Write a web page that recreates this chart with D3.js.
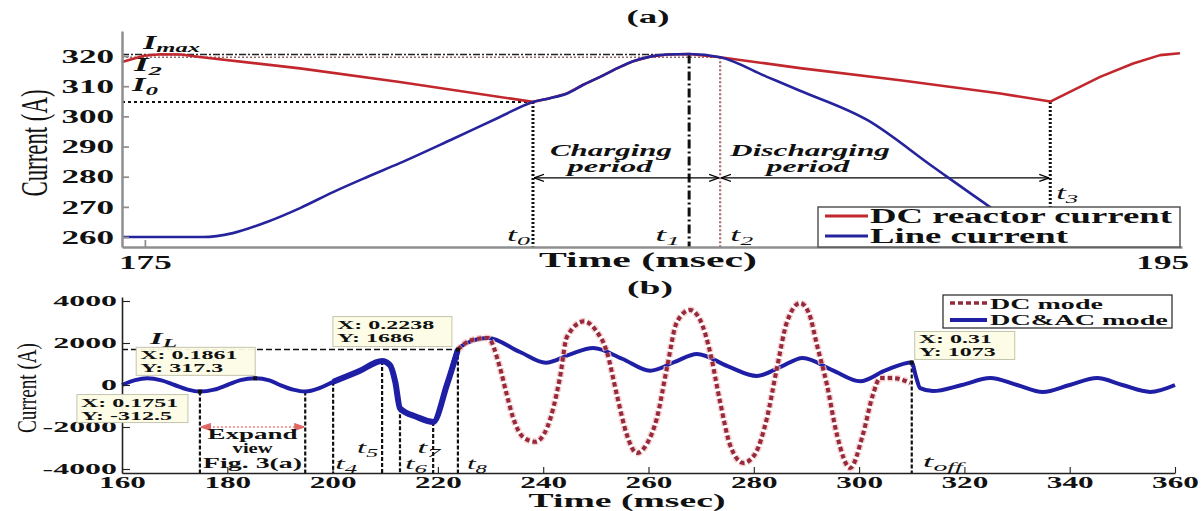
<!DOCTYPE html>
<html>
<head>
<meta charset="utf-8">
<script src="https://cdn.jsdelivr.net/npm/d3@7"></script>
<style>
  html, body { margin: 0; padding: 0; background: #fff; }
  svg { display: block; }
</style>
</head>
<body>
<div id="chart"></div>
<script>
(function () {
  "use strict";

  // ---- panel (a): expanded view, 175-195 ms ----
  const lineTimeA = [174.55, 176.14, 176.73, 177.40, 178.05, 178.70, 179.37, 180.01, 181.00, 181.98, 182.63, 182.96, 183.30, 183.61, 183.95, 184.28, 184.60, 184.93, 185.27, 185.70, 186.31, 187.23, 187.88, 189.20, 190.50, 191.56, 192.40];
  const lineCurrentA = [260.0, 260.0, 261.3, 265.0, 269.6, 274.9, 279.9, 284.5, 292.1, 299.8, 304.8, 306.0, 307.6, 310.4, 313.1, 315.9, 318.3, 319.8, 320.5, 320.7, 319.6, 313.1, 308.5, 298.8, 283.2, 270.6, 261.0];
  const reactorTimeA = [174.55, 174.98, 175.31, 175.71, 176.08, 178.05, 180.01, 182.63, 182.96, 183.30, 183.61, 183.95, 184.28, 184.60, 184.93, 185.27, 185.70, 186.31, 187.88, 189.85, 191.82, 192.80, 193.78, 194.43, 194.96, 195.35];
  const reactorCurrentA = [318.0, 320.1, 320.6, 320.5, 319.7, 315.9, 311.4, 304.8, 306.0, 307.6, 310.4, 313.1, 315.9, 318.3, 319.8, 320.5, 320.7, 319.6, 316.0, 312.0, 307.6, 304.9, 313.1, 317.5, 320.3, 320.9];
  const ticksAX = [175, 195];
  const ticksAY = [260, 270, 280, 290, 300, 310, 320];
  const eventNamesA = ["0", "1", "2", "3"];
  const eventTimesA = [182.63, 185.70, 186.31, 192.80];
  const levelI0 = 304.8, levelI2 = 319.6, levelImax = 320.5;
  const arrowLevelA = 279.6;

  // ---- panel (b): 160-360 ms ----
  const acTimeB = [160, 162.5, 164.8, 167.5, 170, 172.5, 174.8, 177.5, 180, 182.5, 185.3, 188, 190, 192.5, 194.8, 197.6, 200.1, 205, 209.4, 210.9, 211.9, 212.8, 216, 219.1, 221.7, 223.8, 224.8, 229.5, 235.6, 240.5, 245, 249.5, 255, 260.3, 265, 269.2, 275, 280.6, 285, 289.3, 295, 300.2, 305, 310, 310.8, 311.6, 314, 319.5, 324.9, 330, 334.9, 340, 345.2, 350, 355.3, 360];
  const acCurrentB = [0, 230, 317, 220, 0, -220, -312, -220, 0, 230, 317, 220, 0, -220, -312, -140, 150, 650, 1140, 950, 150, -1110, -1520, -1760, 0, 1686, 1900, 2240, 1570, 1060, 1450, 1760, 1250, 680, 1100, 1480, 900, 430, 850, 1290, 700, 180, 700, 1073, 400, -150, -290, 0, 330, 0, -330, 0, 330, 0, -330, 0];
  const dcTimeB = [223.8, 226.0, 229.5, 231.8, 233.1, 234.3, 236.2, 238.5, 240.8, 243.2, 244.5, 247.8, 250.0, 252.1, 254.0, 255.9, 257.8, 259.7, 261.6, 263.5, 265.4, 267.9, 269.8, 271.7, 273.6, 275.5, 278.0, 280.2, 282.5, 284.4, 286.3, 288.8, 290.5, 292.0, 293.9, 295.8, 298.3, 300.7, 302.6, 304.0, 306.5, 309.7];
  const dcCurrentB = [1686, 2100, 2240, 810, -480, -1570, -2480, -2700, -2000, 380, 2290, 3030, 2600, 1570, -480, -2380, -3240, -2800, -1570, 810, 3000, 3570, 3100, 1570, -810, -2860, -3710, -3300, -1570, 810, 3000, 3900, 3400, 1900, 0, -2380, -3950, -2380, -480, 330, 330, 100];
  const ticksBX = [160, 180, 200, 220, 240, 260, 280, 300, 320, 340, 360];
  const ticksBY = [-4000, -2000, 0, 2000, 4000];
  const markTimesB = [174.8, 194.8, 200.1, 209.4, 212.8, 219.1, 223.8, 310];
  const markLevelsB = [-312.5, -312.5, 150, 1140, -1110, -1760, 1686, 1073];
  const levelIL = 1686;
  const expandLevel = -2000;
  const tipTimes = [185.3, 174.8, 223.8, 310];
  const tipLevels = [317.3, -312.5, 1686, 1073];
  const tipTexts = [["X: 0.1861", "Y: 317.3"], ["X: 0.1751", "Y: -312.5"], ["X: 0.2238", "Y: 1686"], ["X: 0.31", "Y: 1073"]];

  const SERIF = "'Liberation Serif', 'Times New Roman', serif";
  const K = 1.9;
  const W = 1204, H = 511;

  const svg = d3.select("#chart").append("svg").attr("width", W).attr("height", H);
  const defs = svg.append("defs");

  function marker(id, color, fill) {
    defs.append("marker").attr("id", id)
      .attr("viewBox", "0 -5 10 10").attr("refX", 10).attr("refY", 0)
      .attr("markerWidth", 10).attr("markerHeight", 10)
      .attr("markerUnits", "userSpaceOnUse").attr("orient", "auto-start-reverse")
      .append("path").attr("d", "M0,-3.5L10,0L0,3.5")
      .attr("fill", fill).attr("stroke", color).attr("stroke-width", 1.2);
  }
  marker("arrK", "#000", "none");
  marker("arrR", "#e06666", "#e06666");

  function label(parent, x, y, str, o) {
    o = o || {};
    const size = o.size || 16;
    const t = parent.append("text")
      .attr("font-family", SERIF)
      .attr("font-size", size)
      .attr("font-weight", o.weight || "bold")
      .attr("font-style", o.italic ? "italic" : "normal")
      .attr("text-anchor", o.anchor || "start")
      .attr("fill", o.fill || "#111");
    t.append("tspan").text(str);
    if (o.sub) {
      t.append("tspan").attr("font-size", size * 0.72).attr("dy", size * 0.22).text(o.sub);
    }
    let sx = o.sx || K;
    if (o.w) {
      const n = t.node().getComputedTextLength();
      if (n > 0) sx = o.w / n;
    }
    t.attr("transform", "translate(" + x + "," + y + ") scale(" + sx + ",1)");
    return t;
  }

  function vlabel(parent, x, y, str, size, len, sx) {
    parent.append("text")
      .attr("transform", "translate(" + x + "," + y + ") scale(" + sx + ",1) rotate(-90)")
      .attr("text-anchor", "middle")
      .attr("font-family", SERIF)
      .attr("font-size", size)
      .attr("fill", "#111")
      .attr("textLength", len)
      .attr("lengthAdjust", "spacingAndGlyphs")
      .text(str);
  }

  function styleAxis(g, color, width, fontSize, k) {
    g.select(".domain").attr("stroke", color).attr("stroke-width", width);
    g.selectAll(".tick line").attr("stroke", color).attr("stroke-width", Math.max(1, width * 0.7));
    g.selectAll(".tick text")
      .attr("font-family", SERIF).attr("font-weight", "bold")
      .attr("font-size", fontSize).attr("fill", "#111")
      .each(function () {
        const s = d3.select(this);
        s.attr("x", (+s.attr("x") || 0) / k).attr("transform", "scale(" + k + ",1)");
      });
  }

  const plain = function (d) { return String(d); };

  // ================= panel (a) =================
  const pa = { left: 122, right: 1182, top: 31, bottom: 247 };
  const xA = d3.scaleLinear().domain([174.55, 195.39]).range([pa.left, pa.right]);
  const yA = d3.scaleLinear().domain([256.7, 328.3]).range([pa.bottom, pa.top]);
  const gA = svg.append("g");

  label(gA, 648, 23, "(a)", { size: 18, anchor: "middle", w: 43 });

  // reference levels
  gA.append("line").attr("x1", pa.left).attr("x2", xA(eventTimesA[0]))
    .attr("y1", yA(levelI0)).attr("y2", yA(levelI0))
    .attr("stroke", "#111").attr("stroke-width", 2).attr("stroke-dasharray", "3,3");
  gA.append("line").attr("x1", pa.left).attr("x2", xA(eventTimesA[2]))
    .attr("y1", yA(levelI2)).attr("y2", yA(levelI2))
    .attr("stroke", "#9a6a6a").attr("stroke-width", 1.5).attr("stroke-dasharray", "2,2");
  gA.append("line").attr("x1", pa.left).attr("x2", xA(eventTimesA[1]))
    .attr("y1", yA(levelImax)).attr("y2", yA(levelImax))
    .attr("stroke", "#222").attr("stroke-width", 1.5).attr("stroke-dasharray", "7,2,2,2");

  // event verticals
  const vStyles = [
    { top: levelI0, color: "#111", w: 3, dash: "2,2" },
    { top: levelImax, color: "#111", w: 3, dash: "9,3,2,3" },
    { top: levelI2, color: "#a86a6a", w: 2.2, dash: "2,2" },
    { top: levelI0, color: "#111", w: 3, dash: "2,2" }
  ];
  eventTimesA.forEach(function (t, i) {
    gA.append("line").attr("x1", xA(t)).attr("x2", xA(t))
      .attr("y1", yA(vStyles[i].top)).attr("y2", pa.bottom)
      .attr("stroke", vStyles[i].color).attr("stroke-width", vStyles[i].w)
      .attr("stroke-dasharray", vStyles[i].dash);
  });

  // charging / discharging arrows
  [[0, 2], [2, 3]].forEach(function (p) {
    gA.append("line")
      .attr("x1", xA(eventTimesA[p[0]]) + 1).attr("x2", xA(eventTimesA[p[1]]) - 1)
      .attr("y1", yA(arrowLevelA)).attr("y2", yA(arrowLevelA))
      .attr("stroke", "#000").attr("stroke-width", 1.2)
      .attr("marker-start", "url(#arrK)").attr("marker-end", "url(#arrK)");
  });
  const ay = yA(arrowLevelA);
  label(gA, 611, ay - 22, "Charging", { size: 16, italic: true, anchor: "middle", w: 122 });
  label(gA, 610, ay - 6, "period", { size: 16, italic: true, anchor: "middle", w: 85 });
  label(gA, 810, ay - 22, "Discharging", { size: 16, italic: true, anchor: "middle", w: 160 });
  label(gA, 808, ay - 6, "period", { size: 16, italic: true, anchor: "middle", w: 83 });

  // curves
  const reactorLine = d3.line()
    .x(function (d) { return xA(d[0]); }).y(function (d) { return yA(d[1]); });
  const lineLine = d3.line().curve(d3.curveMonotoneX)
    .x(function (d) { return xA(d[0]); }).y(function (d) { return yA(d[1]); });
  gA.append("path").datum(d3.zip(reactorTimeA, reactorCurrentA))
    .attr("d", reactorLine).attr("fill", "none")
    .attr("stroke", "#c1272d").attr("stroke-width", 2.6).attr("stroke-linejoin", "round");
  gA.append("path").datum(d3.zip(lineTimeA, lineCurrentA))
    .attr("d", lineLine).attr("fill", "none")
    .attr("stroke", "#26249c").attr("stroke-width", 2.6);

  // axes
  const axAX = gA.append("g").attr("transform", "translate(0," + pa.bottom + ")")
    .call(d3.axisBottom(xA).tickValues(ticksAX).tickFormat(plain).tickSizeInner(-7).tickSizeOuter(0).tickPadding(8));
  styleAxis(axAX, "#8f8f8f", 2.5, 19.5, 1.8);
  const axAY = gA.append("g").attr("transform", "translate(" + pa.left + ",0)")
    .call(d3.axisLeft(yA).tickValues(ticksAY).tickFormat(plain).tickSizeInner(-7).tickSizeOuter(0).tickPadding(8));
  styleAxis(axAY, "#8f8f8f", 2.5, 19.5, 1.8);

  label(gA, 648, 267, "Time (msec)", { size: 22, anchor: "middle", w: 218 });
  vlabel(gA, 47, 143, "Current (A)", 22.8, 107, 1.65);

  // event labels
  label(gA, xA(eventTimesA[0]) - 3, 241, "t", { size: 18, italic: true, sub: eventNamesA[0], anchor: "end", weight: "normal", w: 23 });
  label(gA, xA(eventTimesA[1]) - 9, 241, "t", { size: 18, italic: true, sub: eventNamesA[1], anchor: "end", weight: "normal", w: 25 });
  label(gA, xA(eventTimesA[2]) + 10, 241, "t", { size: 18, italic: true, sub: eventNamesA[2], weight: "normal", w: 23 });
  label(gA, xA(eventTimesA[3]) + 6, 199, "t", { size: 18, italic: true, sub: eventNamesA[3], weight: "normal", w: 22 });
  label(gA, 143, yA(levelImax) - 6, "I", { size: 18, italic: true, sub: "max", w: 57 });
  label(gA, 134, yA(levelI2) + 14, "I", { size: 18, italic: true, sub: "2", w: 28 });
  label(gA, 132, yA(levelI0) - 11, "I", { size: 18, italic: true, sub: "0", w: 26 });

  // legend (a)
  const lgA = gA.append("g");
  lgA.append("rect").attr("x", 818).attr("y", 207).attr("width", 362).attr("height", 40)
    .attr("fill", "#fff").attr("stroke", "#555").attr("stroke-width", 1.5);
  lgA.append("line").attr("x1", 825).attr("x2", 868).attr("y1", 216).attr("y2", 216)
    .attr("stroke", "#c1272d").attr("stroke-width", 3);
  lgA.append("line").attr("x1", 825).attr("x2", 868).attr("y1", 236).attr("y2", 236)
    .attr("stroke", "#26249c").attr("stroke-width", 3);
  label(lgA, 870, 223, "DC reactor current", { size: 20, w: 302 });
  label(lgA, 870, 243, "Line current", { size: 20, w: 198 });

  // ================= panel (b) =================
  const pb = { left: 122, right: 1175, top: 297, bottom: 473 };
  const xB = d3.scaleLinear().domain([160, 360]).range([pb.left, pb.right]);
  const yB = d3.scaleLinear().domain([-4190, 4190]).range([pb.bottom, pb.top]);
  const gB = svg.append("g");

  label(gB, 650, 294, "(b)", { size: 18, anchor: "middle", w: 46 });

  // IL level
  gB.append("line").attr("x1", pb.left).attr("x2", xB(markTimesB[6]))
    .attr("y1", yB(levelIL)).attr("y2", yB(levelIL))
    .attr("stroke", "#111").attr("stroke-width", 1.5).attr("stroke-dasharray", "6,3");

  // event verticals
  markTimesB.forEach(function (t, i) {
    gB.append("line").attr("x1", xB(t)).attr("x2", xB(t))
      .attr("y1", yB(markLevelsB[i])).attr("y2", pb.bottom)
      .attr("stroke", "#111").attr("stroke-width", 2.2).attr("stroke-dasharray", "4,2");
  });

  // expand view arrow
  gB.append("line")
    .attr("x1", xB(markTimesB[0]) + 1).attr("x2", xB(markTimesB[1]) - 1)
    .attr("y1", yB(expandLevel)).attr("y2", yB(expandLevel))
    .attr("stroke", "#e88080").attr("stroke-width", 1.5).attr("stroke-dasharray", "2,2")
    .attr("marker-start", "url(#arrR)").attr("marker-end", "url(#arrR)");
  const ex = (xB(markTimesB[0]) + xB(markTimesB[1])) / 2;
  label(gB, ex, yB(expandLevel) + 12, "Expand", { size: 14, anchor: "middle", w: 90 });
  label(gB, ex, yB(expandLevel) + 26, "view", { size: 14, anchor: "middle", w: 40 });
  label(gB, ex, yB(expandLevel) + 41, "Fig. 3(a)", { size: 14, anchor: "middle", w: 99 });

  // curves
  const curveB = d3.line().curve(d3.curveMonotoneX)
    .x(function (d) { return xB(d[0]); }).y(function (d) { return yB(d[1]); });
  const acData = d3.zip(acTimeB, acCurrentB);
  const dcData = d3.zip(dcTimeB, dcCurrentB);
  gB.append("path").datum(acData).attr("d", curveB).attr("fill", "none")
    .attr("stroke", "#1f1fa6").attr("stroke-width", 4).attr("stroke-linejoin", "round");
  gB.append("path").datum(acData.filter(function (d) { return d[0] >= 200.1 && d[0] <= 223.8; }))
    .attr("d", curveB).attr("fill", "none")
    .attr("stroke", "#1f1fa6").attr("stroke-width", 6).attr("stroke-linejoin", "round");
  gB.append("path").datum(dcData).attr("d", curveB).attr("fill", "none")
    .attr("stroke", "#f2c2c2").attr("stroke-width", 7).attr("stroke-dasharray", "5,2.5").attr("opacity", 0.8);
  gB.append("path").datum(dcData).attr("d", curveB).attr("fill", "none")
    .attr("stroke", "#962a3c").attr("stroke-width", 4).attr("stroke-dasharray", "4.5,3");

  // axes
  const axBX = gB.append("g").attr("transform", "translate(0," + pb.bottom + ")")
    .call(d3.axisBottom(xB).tickValues(ticksBX).tickFormat(plain).tickSizeInner(-6).tickSizeOuter(0).tickPadding(4));
  styleAxis(axBX, "#222", 1.6, 16, 1.95);
  const axBY = gB.append("g").attr("transform", "translate(" + pb.left + ",0)")
    .call(d3.axisLeft(yB).tickValues(ticksBY).tickFormat(plain).tickSizeInner(-8).tickSizeOuter(0).tickPadding(5));
  styleAxis(axBY, "#222", 1.6, 14.5, 2.2);

  label(gB, 627, 507, "Time (msec)", { size: 18, anchor: "middle", w: 197 });
  vlabel(gB, 36, 388, "Current (A)", 19, 90, 1.4);

  // event labels
  label(gB, 150, yB(levelIL) - 6, "I", { size: 16, italic: true, sub: "L", w: 27 });
  label(gB, xB(markTimesB[2]) + 2, 469, "t", { size: 16, italic: true, sub: "4", weight: "normal", w: 22 });
  label(gB, xB(markTimesB[3]) - 4, 453, "t", { size: 16, italic: true, sub: "5", anchor: "end", weight: "normal", w: 21 });
  label(gB, xB(markTimesB[4]) + 5, 469, "t", { size: 16, italic: true, sub: "6", weight: "normal", w: 22 });
  label(gB, xB(markTimesB[5]) + 7, 453, "t", { size: 16, italic: true, sub: "7", anchor: "end", weight: "normal", w: 23 });
  label(gB, xB(markTimesB[6]) + 9, 469, "t", { size: 16, italic: true, sub: "8", weight: "normal", w: 20 });
  label(gB, xB(markTimesB[7]) + 11, 467, "t", { size: 16, italic: true, sub: "off", weight: "normal", w: 40 });

  // data tips
  const tipBoxes = [
    { dx: -119, dy: -31, w: 119, h: 28 },
    { dx: -123, dy: 3, w: 111, h: 28 },
    { dx: -125, dy: -33, w: 119, h: 30 },
    { dx: 3, dy: -31, w: 100, h: 28 }
  ];
  tipTimes.forEach(function (t, i) {
    const px = xB(t), py = yB(tipLevels[i]), b = tipBoxes[i];
    const g = gB.append("g");
    g.append("rect").attr("x", px + b.dx).attr("y", py + b.dy).attr("width", b.w).attr("height", b.h)
      .attr("fill", "#fdfde6").attr("fill-opacity", 0.95).attr("stroke", "#c4c4ae").attr("stroke-width", 1);
    label(g, px + b.dx + 4, py + b.dy + 12, tipTexts[i][0], { size: 12, sx: 2.0 });
    label(g, px + b.dx + 4, py + b.dy + 25, tipTexts[i][1], { size: 12, sx: 2.0 });
    g.append("rect").attr("x", px - 2).attr("y", py - 2).attr("width", 4).attr("height", 4).attr("fill", "#111");
  });

  // legend (b)
  const lgB = gB.append("g");
  lgB.append("rect").attr("x", 943).attr("y", 295).attr("width", 229).attr("height", 33)
    .attr("fill", "#fff").attr("stroke", "#222").attr("stroke-width", 1.2);
  lgB.append("line").attr("x1", 950).attr("x2", 987).attr("y1", 303).attr("y2", 303)
    .attr("stroke", "#962a3c").attr("stroke-width", 3.5).attr("stroke-dasharray", "5,3");
  lgB.append("line").attr("x1", 950).attr("x2", 987).attr("y1", 320).attr("y2", 320)
    .attr("stroke", "#1f1fa6").attr("stroke-width", 4);
  label(lgB, 990, 309, "DC mode", { size: 15, w: 113 });
  label(lgB, 990, 325, "DC&AC mode", { size: 15, w: 178 });
})();
</script>
</body>
</html>
